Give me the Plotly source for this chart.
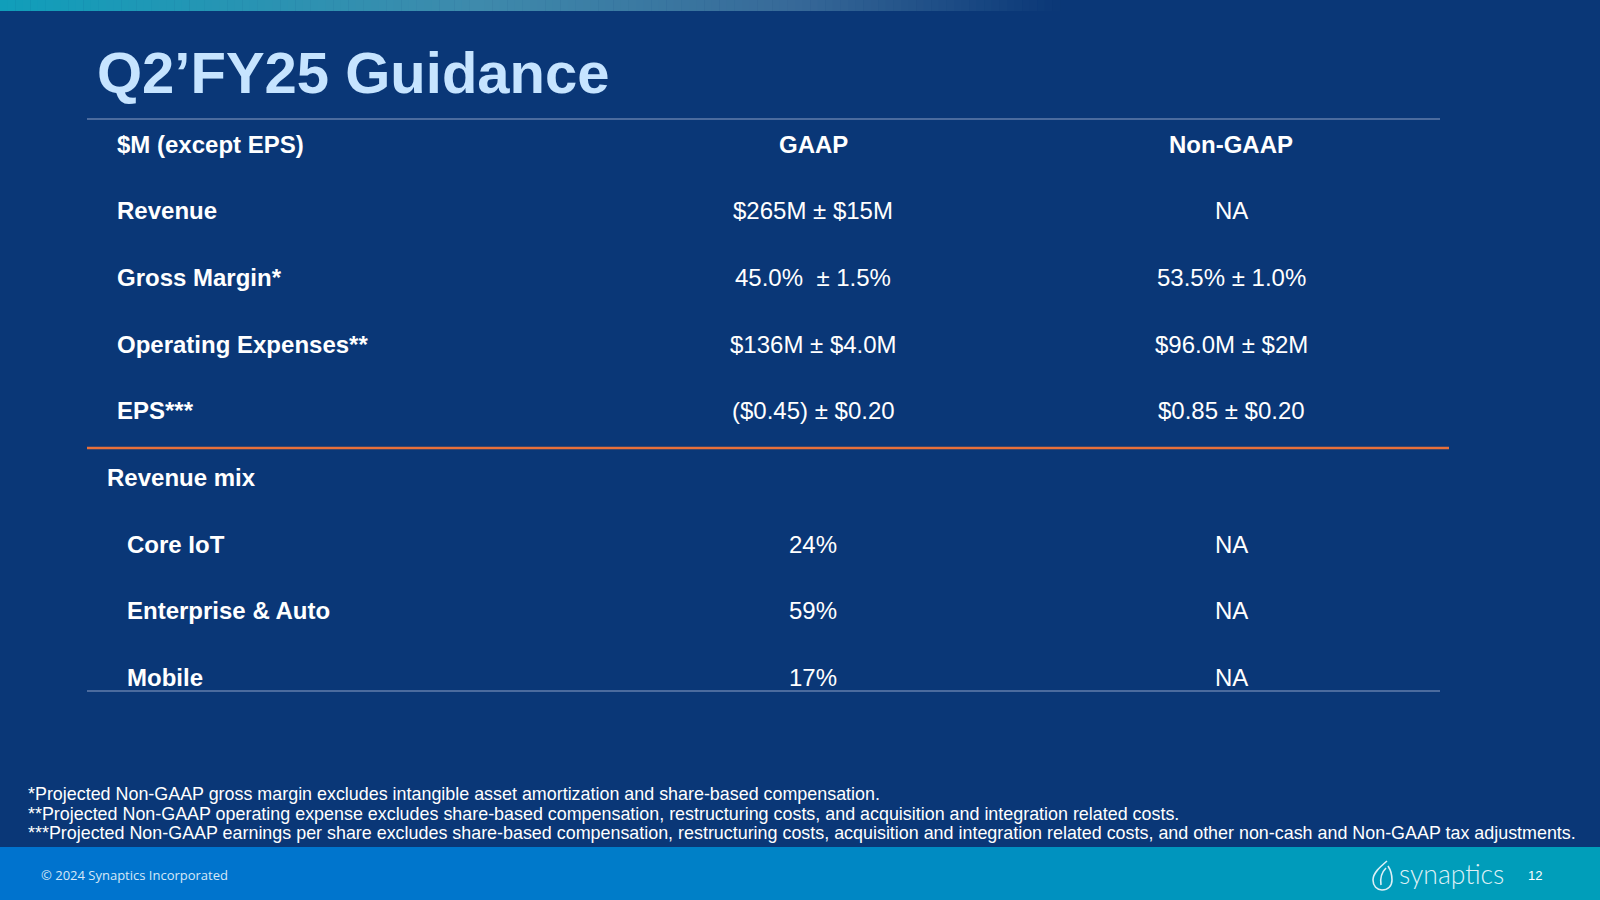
import plotly.graph_objects as go

# ---------------- data ----------------
title_text = "Q2\u2019FY25 Guidance"
header = ["$M (except EPS)", "GAAP", "Non-GAAP"]
row_labels = ["Revenue", "Gross Margin*", "Operating Expenses**", "EPS***"]
gaap_values = ["$265M \u00b1 $15M", "45.0%\u00a0 \u00b1 1.5%", "$136M \u00b1 $4.0M", "($0.45) \u00b1 $0.20"]
non_gaap_values = ["NA", "53.5% \u00b1 1.0%", "$96.0M \u00b1 $2M", "$0.85 \u00b1 $0.20"]
mix_title = "Revenue mix"
mix_labels = ["Core IoT", "Enterprise & Auto", "Mobile"]
mix_gaap = ["24%", "59%", "17%"]
mix_non_gaap = ["NA", "NA", "NA"]
footnotes = [
    "*Projected Non-GAAP gross margin excludes intangible asset amortization and share-based compensation.",
    "**Projected Non-GAAP operating expense excludes share-based compensation, restructuring costs, and acquisition and integration related costs.",
    "***Projected Non-GAAP earnings per share excludes share-based compensation, restructuring costs, acquisition and integration related costs, and other non-cash and Non-GAAP tax adjustments.",
]
copyright_text = "\u00a9 2024 Synaptics Incorporated"
logo_text = "synaptics"
page_number = "12"

# ---------------- styles ----------------
W, H = 1600, 900
BG = "#0A3777"
WHITE = "#FFFFFF"
TITLE_COLOR = "#C6E4FF"
ARIAL = "Liberation Sans, Arial, sans-serif"

fig = go.Figure()
fig.add_trace(go.Scatter(x=[0, W], y=[0, H], mode="markers",
                         marker=dict(opacity=0), hoverinfo="skip", showlegend=False))

shapes = []


def lerp(c1, c2, t):
    return tuple(round(a + (b - a) * t) for a, b in zip(c1, c2))


def grad_color(stops, t):
    for (t0, c0), (t1, c1) in zip(stops, stops[1:]):
        if t <= t1:
            u = 0 if t1 == t0 else (t - t0) / (t1 - t0)
            return lerp(c0, c1, max(0, min(1, u)))
    return stops[-1][1]


# top gradient bar
top_stops = [(0.0, (16, 158, 186)), (0.45, (62, 138, 172)), (0.75, (55, 105, 152)), (1.0, (10, 55, 119))]
n = 140
x_end = 1060
for i in range(n):
    x0 = x_end * i / n
    x1 = x_end * (i + 1) / n + 0.5
    c = grad_color(top_stops, (i + 0.5) / n)
    shapes.append(dict(type="rect", xref="x", yref="y", x0=x0, x1=x1, y0=0, y1=11,
                       fillcolor="rgb(%d,%d,%d)" % c, line=dict(width=0), layer="below"))

# footer gradient bar
foot_stops = [(0.0, (0, 115, 206)), (0.3, (0, 118, 204)), (0.8, (0, 155, 187)), (1.0, (0, 158, 186))]
n = 160
for i in range(n):
    x0 = W * i / n
    x1 = W * (i + 1) / n + 0.5
    c = grad_color(foot_stops, (i + 0.5) / n)
    shapes.append(dict(type="rect", xref="x", yref="y", x0=x0, x1=x1, y0=847, y1=H,
                       fillcolor="rgb(%d,%d,%d)" % c, line=dict(width=0), layer="below"))

# table rules
shapes.append(dict(type="line", xref="x", yref="y", x0=87, x1=1440, y0=119, y1=119,
                   line=dict(color="#4B6B9E", width=2)))
shapes.append(dict(type="line", xref="x", yref="y", x0=87, x1=1449, y0=448, y1=448,
                   line=dict(color="#E8703A", width=2.5)))
shapes.append(dict(type="line", xref="x", yref="y", x0=87, x1=1440, y0=691, y1=691,
                   line=dict(color="#4B6B9E", width=2)))

# logo drop icon
shapes.append(dict(type="path", xref="x", yref="y",
                   path="M 1387,861 C 1380,867 1373,873 1373,880 C 1373,886 1377,890 1382,890 "
                        "C 1388,890 1392,886 1392,880 C 1392,874 1390,869 1388,866 "
                        "M 1386,868 C 1381,873 1380,879 1381,885",
                   line=dict(color="#DDF0F6", width=1.6)))

ann = []


def text(x, y, s, size, color=WHITE, bold=False, anchor="left", family=ARIAL):
    ann.append(dict(x=x, y=y, xref="x", yref="y", text=("<b>%s</b>" % s) if bold else s,
                    showarrow=False, xanchor=anchor, yanchor="middle",
                    font=dict(size=size, color=color, family=family)))


text(95, 72, title_text, 58, TITLE_COLOR, bold=True)

col_gaap = 813
col_non = 1231
lbl_x = 115

text(lbl_x, 144, header[0], 24, bold=True)
text(col_gaap, 144, header[1], 24, bold=True, anchor="center")
text(col_non, 144, header[2], 24, bold=True, anchor="center")

row_y = [210, 277, 344, 410]
for y, lab, g, ng in zip(row_y, row_labels, gaap_values, non_gaap_values):
    text(lbl_x, y, lab, 24, bold=True)
    text(col_gaap, y, g, 24, anchor="center")
    text(col_non, y, ng, 24, anchor="center")

text(105, 477, mix_title, 24, bold=True)
mix_y = [544, 610, 677]
for y, lab, g, ng in zip(mix_y, mix_labels, mix_gaap, mix_non_gaap):
    text(125, y, lab, 24, bold=True)
    text(col_gaap, y, g, 24, anchor="center")
    text(col_non, y, ng, 24, anchor="center")

foot_y = [794, 814, 833]
for y, s in zip(foot_y, footnotes):
    text(26, y, s, 17.9, family=ARIAL)

text(39, 875, copyright_text, 13, "#D6E8F7", family="Open Sans, Noto Sans, sans-serif")
text(1397, 874, logo_text, 26.5, "#DDF0F6", family="Lato Light, Lato, sans-serif")
text(1526, 875, page_number, 13, WHITE, family=ARIAL)

fig.update_layout(
    width=W, height=H,
    margin=dict(l=0, r=0, t=0, b=0),
    paper_bgcolor=BG, plot_bgcolor=BG,
    xaxis=dict(range=[0, W], visible=False, fixedrange=True),
    yaxis=dict(range=[H, 0], visible=False, fixedrange=True),
    shapes=shapes, annotations=ann, showlegend=False,
)

fig.write_html(
    "out.html",
    config={"displayModeBar": False},
    post_script="document.body.style.margin='0';document.body.style.padding='0';"
                "document.body.style.overflow='hidden';document.body.style.background='#0A3777';",
)
